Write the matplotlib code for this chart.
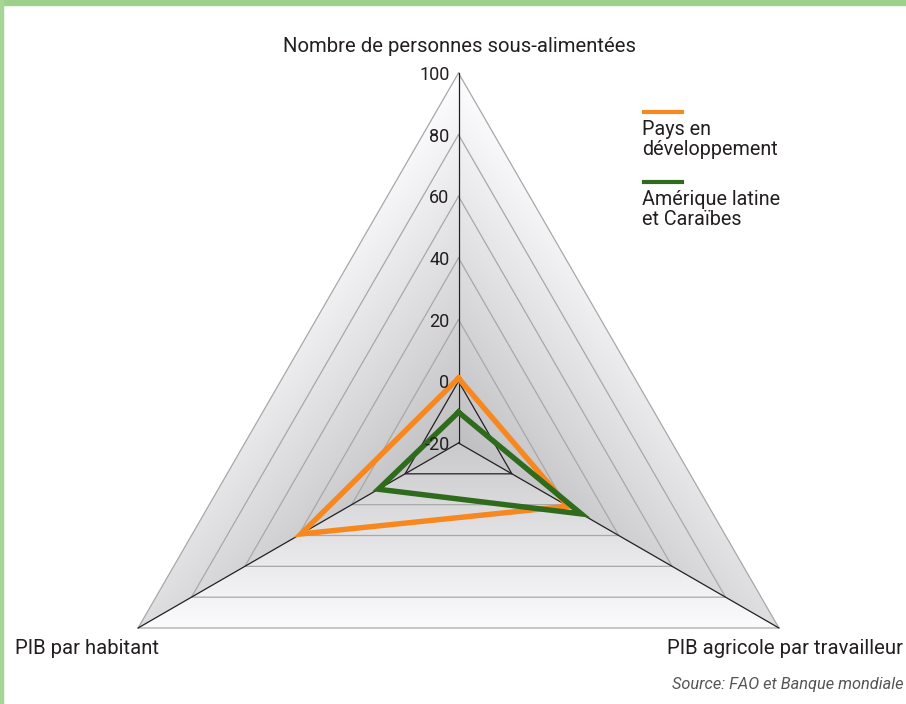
import numpy as np
import matplotlib
matplotlib.use("Agg")
import matplotlib.pyplot as plt
from matplotlib.patches import Polygon, Rectangle
from matplotlib.lines import Line2D

plt.rcParams['font.family'] = ['Roboto', 'DejaVu Sans']

# data
categories = ["Nombre de personnes sous-alimentées",
              "PIB agricole par travailleur",
              "PIB par habitant"]
series_names = ["Pays en\ndéveloppement", "Amérique latine\net Caraïbes"]
pays_dev = [1, 21, 39]
amerique_latine = [-10, 26, 10]
ticks = [-20, 0, 20, 40, 60, 80, 100]

ORANGE = "#f7881f"
GREEN = "#2f6b1c"
TEXT = "#231f20"

r_min, r_max = ticks[0], ticks[-1]
angles = np.deg2rad([90, -30, 210])


def to_xy(values):
    r = np.asarray(values, dtype=float) - r_min
    return r * np.cos(angles), r * np.sin(angles)


W, H = 906, 704
fig = plt.figure(figsize=(W / 100, H / 100), dpi=100)
ax = fig.add_axes([0, 0, 1, 1])
scale = 370 / (r_max - r_min)       # pixels per unit
cx, cy = 458.5, 443
ax.set_xlim(-cx / scale, (W - cx) / scale)
ax.set_ylim(-(H - cy) / scale, cy / scale)
ax.set_aspect("equal")
ax.axis("off")

# shaded background: three sectors with linear shading
ox, oy = to_xy([r_max] * 3)
apex, right, left = (ox[0], oy[0]), (ox[1], oy[1]), (ox[2], oy[2])
centre = (0.0, 0.0)
sectors = [
    ((apex, centre, left), (0.99, 0.75, 0.87)),
    ((apex, centre, right), (0.99, 0.75, 0.87)),
    ((centre, left, right), (0.79, 0.985, 0.985)),
]
gx = np.linspace(left[0], right[0], 500)
gy = np.linspace(left[1], apex[1], 500)
X, Y = np.meshgrid(gx, gy)
for (p0, p1, p2), (c0, c1, c2) in sectors:
    det = (p1[1] - p2[1]) * (p0[0] - p2[0]) + (p2[0] - p1[0]) * (p0[1] - p2[1])
    l0 = ((p1[1] - p2[1]) * (X - p2[0]) + (p2[0] - p1[0]) * (Y - p2[1])) / det
    l1 = ((p2[1] - p0[1]) * (X - p2[0]) + (p0[0] - p2[0]) * (Y - p2[1])) / det
    l2 = 1 - l0 - l1
    shade = np.clip(l0 * c0 + l1 * c1 + l2 * c2, 0, 1)
    rgb = np.dstack([shade, shade, np.clip(shade + 0.01, 0, 1)])
    im = ax.imshow(rgb, extent=(gx[0], gx[-1], gy[0], gy[-1]), origin="lower",
                   interpolation="bilinear", zorder=0)
    clip = Polygon([p0, p1, p2], closed=True, transform=ax.transData)
    im.set_clip_path(clip)

# rings
for t in ticks[1:]:
    rx, ry = to_xy([t] * 3)
    color = "#231f20" if t == 0 else "#a8a8a8"
    ax.plot(np.append(rx, rx[0]), np.append(ry, ry[0]), color=color,
            lw=0.9, zorder=2)

# spokes
for x, y in zip(ox, oy):
    ax.plot([0, x], [0, y], color="#231f20", lw=0.9, zorder=2)

# tick labels
for t in ticks:
    ax.annotate(str(t), xy=(0, t - r_min), xytext=(-6.5, -1.5),
                textcoords="offset points", ha="right", va="center",
                fontsize=13, color=TEXT, zorder=5)

# series
for vals, col in [(pays_dev, ORANGE), (amerique_latine, GREEN)]:
    x, y = to_xy(vals)
    ax.plot(np.append(x, x[0]), np.append(y, y[0]), color=col, lw=3.9,
            solid_joinstyle="miter", zorder=4)

# category labels
fig.text(459 / W, 1 - 47 / H, categories[0], ha="center", va="center",
         fontsize=14.6, color=TEXT)
fig.text(903 / W, 1 - 648 / H, categories[1], ha="right", va="center",
         fontsize=14.6, color=TEXT)
fig.text(15 / W, 1 - 648 / H, categories[2], ha="left", va="center",
         fontsize=14.6, color=TEXT)
fig.text(903 / W, 1 - 685 / H, "Source: FAO et Banque mondiale", ha="right",
         va="center", fontsize=11.8, style="italic", color="#555555")

# legend, handle above text
for name, col, ly in [(series_names[0], ORANGE, 112), (series_names[1], GREEN, 182)]:
    fig.add_artist(Line2D([644 / W, 682 / W], [1 - ly / H] * 2, color=col,
                          lw=3, transform=fig.transFigure))
    fig.text(642 / W, 1 - (ly + 8) / H, name, ha="left", va="top",
             fontsize=14.2, linespacing=1.08, color=TEXT)

# green frame
fig.patches.append(Rectangle((0, 1 - 5 / H), 1, 5 / H, transform=fig.transFigure,
                             color="#9dd08b", zorder=10))
fig.patches.append(Rectangle((0, 0), 2.5 / W, 1, transform=fig.transFigure,
                             color="#a6d695", zorder=10))

fig.savefig("out.png", dpi=100)
plt.close(fig)
